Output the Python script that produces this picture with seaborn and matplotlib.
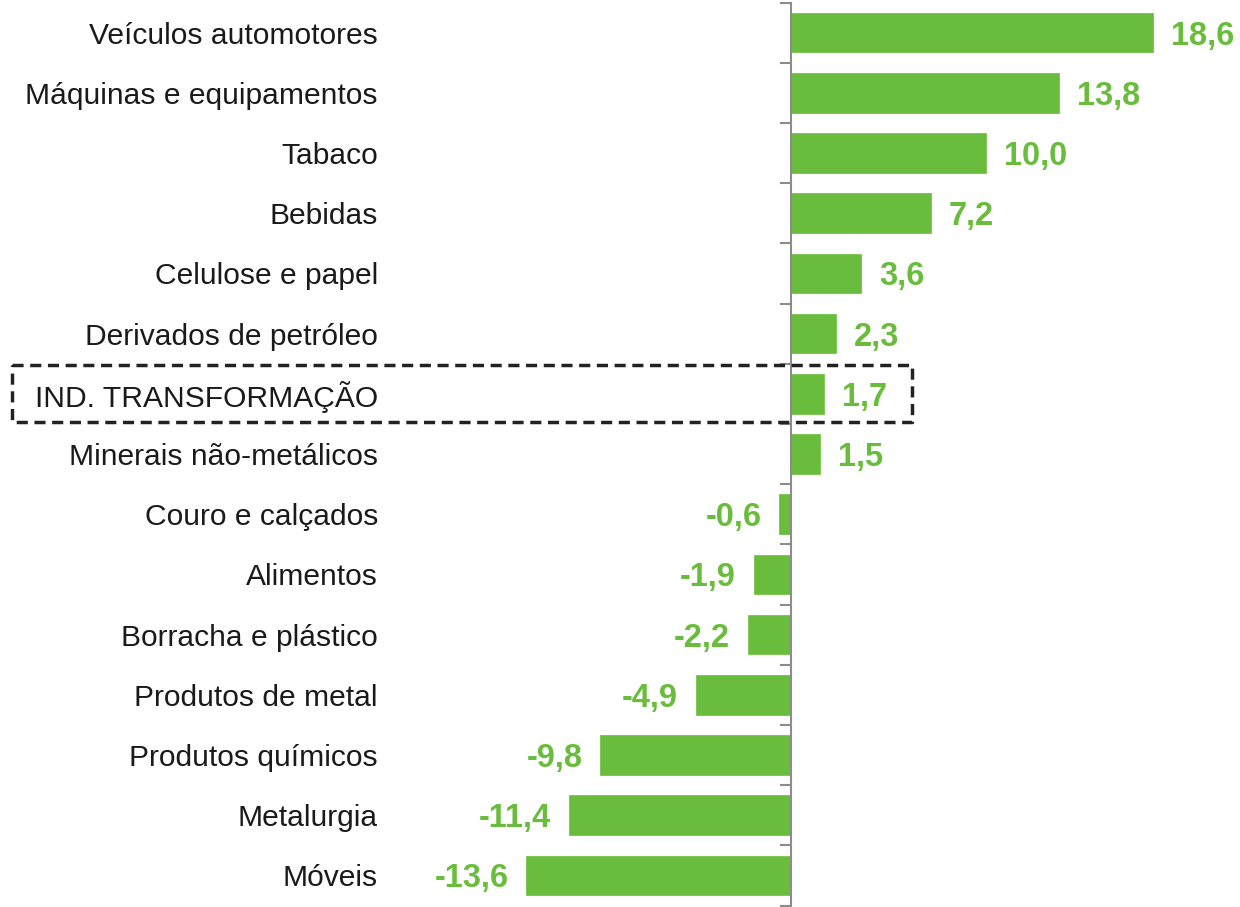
import numpy as np
import pandas as pd
import matplotlib
matplotlib.use("Agg")
import matplotlib.pyplot as plt
import matplotlib.transforms as mtransforms
from matplotlib.patches import Rectangle
import seaborn as sns

categories = [
    "Veículos automotores", "Máquinas e equipamentos", "Tabaco", "Bebidas",
    "Celulose e papel", "Derivados de petróleo", "IND. TRANSFORMAÇÃO",
    "Minerais não-metálicos", "Couro e calçados", "Alimentos",
    "Borracha e plástico", "Produtos de metal", "Produtos químicos",
    "Metalurgia", "Móveis",
]
values = [18.6, 13.8, 10.0, 7.2, 3.6, 2.3, 1.7, 1.5, -0.6, -1.9, -2.2, -4.9, -9.8, -11.4, -13.6]
highlight = "IND. TRANSFORMAÇÃO"

GREEN = "#6abd3c"
GRAY = "#8c8c8c"

sns.set_theme(style="white")
plt.rcParams["font.family"] = ["Liberation Sans", "DejaVu Sans"]

df = pd.DataFrame({"cat": categories, "val": values})

fig = plt.figure(figsize=(12.4, 9.07), dpi=100)
W, H = 1240, 907
ax_left, ax_right = 390, 1240
ax_top, ax_bot = 2.5, 905.5
ax = fig.add_axes([ax_left / W, 1 - ax_bot / H, (ax_right - ax_left) / W, (ax_bot - ax_top) / H])

sns.barplot(data=df, x="val", y="cat", order=categories, orient="h",
            color=GREEN, saturation=1, width=0.66, ax=ax, edgecolor=GREEN, linewidth=0.5)

ppu = 19.45
ax.set_xlim((ax_left - 791) / ppu, (ax_right - 791) / ppu)
ax.set_ylim(len(categories) - 0.5, -0.5)

for s in ["top", "right", "bottom"]:
    ax.spines[s].set_visible(False)
ax.spines["left"].set_position(("data", 0))
ax.spines["left"].set_color(GRAY)
ax.spines["left"].set_linewidth(1.5)
ax.set_xticks([])
ax.set_xlabel("")
ax.set_ylabel("")
ax.set_yticks(np.arange(-0.5, len(categories), 1), minor=True)
ax.tick_params(axis="y", which="major", length=0, labelleft=False)
ax.tick_params(axis="y", which="minor", length=8, width=1.5, color=GRAY, direction="out", left=True)

# value labels
for i, v in enumerate(values):
    txt = f"{v:.1f}".replace(".", ",")
    off = 13 if v >= 0 else -13
    ax.annotate(txt, (v, i), xytext=(off, 0), textcoords="offset points",
                ha="left" if v >= 0 else "right", va="center_baseline",
                fontsize=23.5, fontweight="bold", color=GREEN)

# category labels
trans = mtransforms.blended_transform_factory(fig.transFigure, ax.transData)
for i, c in enumerate(categories):
    ax.text(378 / W, i, c, transform=trans, ha="right", va="center_baseline",
            fontsize=21.6, color="#1a1a1a")

# dashed highlight box
hi = categories.index(highlight)
rect = Rectangle((12 / W, hi - 0.473), (912 - 12) / W, 0.946, transform=trans,
                 fill=False, edgecolor="#222222", linewidth=2.5,
                 linestyle=(0, (3.2, 1.9)), joinstyle="round",
                 clip_on=False, zorder=5)
ax.add_patch(rect)

fig.savefig("out.png", dpi=100)
